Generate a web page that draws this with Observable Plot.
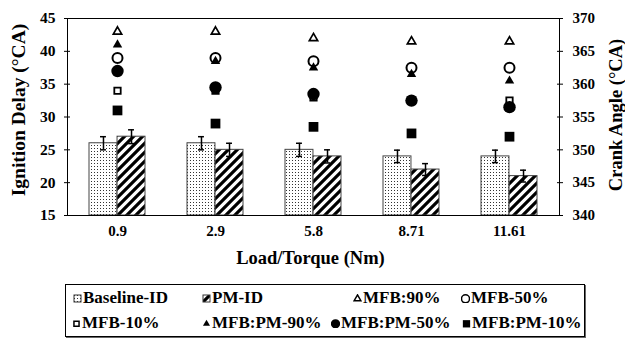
<!DOCTYPE html>
<html><head><meta charset="utf-8">
<script src="https://cdn.jsdelivr.net/npm/d3@7"></script>
<script src="https://cdn.jsdelivr.net/npm/@observablehq/plot@0.6"></script>
<style>
body{margin:0;background:#fff;font-family:"Liberation Serif","Times New Roman","DejaVu Serif",serif;}
#chart{position:relative;width:625px;height:339px;overflow:hidden;}
#legendBox{position:absolute;left:65px;top:284px;width:520px;height:53px;border:1px solid #000;box-sizing:border-box;box-shadow:1px 1px 0 #666;}
.item{position:absolute;height:20px;display:flex;align-items:center;white-space:nowrap;font-weight:bold;font-size:17px;color:#000;font-family:"Liberation Serif","Times New Roman","DejaVu Serif",serif;}
.item svg{margin-right:1px;}
svg text{font-family:"Liberation Serif","Times New Roman","DejaVu Serif",serif;}
</style></head><body><div id="chart"></div>
<script>
// ---- data ----
const loads = ["0.9", "2.9", "5.8", "8.71", "11.61"];
const baselineID = [26, 26, 25, 24, 24];
const pmID = [27, 25, 24, 22, 21];
const baselineErr = [1, 1, 1, 0.95, 0.95];
const pmErr = [1.05, 1, 1, 0.9, 0.9];
// crank angle series (right axis)
const mfb90 = [368, 368, 367, 366.5, 366.5];
const mfb50 = [364, 364, 363.5, 362.5, 362.5];
const mfb10 = [359, 359, 358, 357.5, 357.5];
const mfbPM90 = [366, 363.5, 362.5, 361.5, 360.5];
const mfbPM50 = [362, 359.5, 358.5, 357.5, 356.5];
const mfbPM10 = [356, 354, 353.5, 352.5, 352];
const idTicks = [15, 20, 25, 30, 35, 40, 45];
const caTicks = [340, 345, 350, 355, 360, 365, 370];
const xTitle = "Load/Torque (Nm)";
const yTitle = "Ignition Delay (°CA)";
const y2Title = "Crank Angle (°CA)";

// ---- build ----
const FONT = '"Liberation Serif", "Times New Roman", "DejaVu Serif", serif';
const idDomain = [idTicks[0], idTicks[idTicks.length - 1]];
const caDomain = [caTicks[0], caTicks[caTicks.length - 1]];
const toLeft = d3.scaleLinear().domain(caDomain).range(idDomain);

const rows = loads.map((l, i) => ({load: l, base: baselineID[i], pm: pmID[i], be: baselineErr[i], pe: pmErr[i]}));

const markerSeries = [
  {name: "MFB:90%", values: mfb90, symbol: "triangle", fill: "white", stroke: "black", strokeWidth: 1.7, r: 3.1},
  {name: "MFB-50%", values: mfb50, symbol: "circle", fill: "white", stroke: "black", strokeWidth: 2, r: 5},
  {name: "MFB-10%", values: mfb10, symbol: "square", fill: "white", stroke: "black", strokeWidth: 1.8, r: 3.6},
  {name: "MFB:PM-90%", values: mfbPM90, symbol: "triangle", fill: "black", stroke: "none", strokeWidth: 0, r: 3.5},
  {name: "MFB:PM-50%", values: mfbPM50, symbol: "circle", fill: "black", stroke: "none", strokeWidth: 0, r: 6.2},
  {name: "MFB:PM-10%", values: mfbPM10, symbol: "square", fill: "black", stroke: "none", strokeWidth: 0, r: 5.5}
];

const W = 625, H = 282, mL = 67, mR = 66;
const pIn = 0.43, pOut = 0.215;
const step = (W - mL - mR) / (loads.length - pIn + 2 * pOut);
const half = step * (1 - pIn) / 2;

const boldText = {fontWeight: "bold", fill: "black", fontFamily: FONT};

const marks = [
  Plot.barY(rows, {x: "load", y1: idDomain[0], y2: "base", fill: "url(#dots)", stroke: "#444", strokeWidth: 1, insetRight: half}),
  Plot.barY(rows, {x: "load", y1: idDomain[0], y2: "pm", fill: "url(#hatch)", stroke: "#444", strokeWidth: 1, insetLeft: half}),
  Plot.ruleX(rows, {x: "load", y1: d => d.base - d.be, y2: d => d.base + d.be, dx: -half / 2, stroke: "black", strokeWidth: 1.5}),
  Plot.tickY(rows, {x: "load", y: d => d.base + d.be, dx: -half / 2, insetLeft: half - 3, insetRight: half - 3, stroke: "black", strokeWidth: 1.5}),
  Plot.tickY(rows, {x: "load", y: d => d.base - d.be, dx: -half / 2, insetLeft: half - 3, insetRight: half - 3, stroke: "black", strokeWidth: 1.5}),
  Plot.ruleX(rows, {x: "load", y1: d => d.pm - d.pe, y2: d => d.pm + d.pe, dx: half / 2, stroke: "black", strokeWidth: 1.5}),
  Plot.tickY(rows, {x: "load", y: d => d.pm + d.pe, dx: half / 2, insetLeft: half - 3, insetRight: half - 3, stroke: "black", strokeWidth: 1.5}),
  Plot.tickY(rows, {x: "load", y: d => d.pm - d.pe, dx: half / 2, insetLeft: half - 3, insetRight: half - 3, stroke: "black", strokeWidth: 1.5}),
  Plot.frame({stroke: "black", strokeWidth: 1}),
  Plot.axisY(idTicks, {anchor: "left", tickSize: 6, dx: 3, tickPadding: 9, fontSize: 15.5, label: null, stroke: "black", ...boldText}),
  Plot.axisY(caTicks.map(v => toLeft(v)), {anchor: "right", tickSize: 6, dx: -3, tickPadding: 10, fontSize: 15, label: null, tickFormat: v => String(Math.round(toLeft.invert(v))), stroke: "black", ...boldText}),
  Plot.axisX({tickSize: 0, tickPadding: 10, fontSize: 15, label: null, ...boldText}),
  ...markerSeries.map(s => Plot.dot(loads.map((l, i) => ({load: l, ca: s.values[i]})), {
    x: "load", y: d => toLeft(d.ca), symbol: s.symbol, r: s.r, fill: s.fill, stroke: s.stroke, strokeWidth: s.strokeWidth
  })),
  Plot.text([xTitle], {frameAnchor: "bottom", textAnchor: "middle", dy: 48, dx: -3, fontSize: 18.5, ...boldText}),
  Plot.text([yTitle], {frameAnchor: "left", textAnchor: "middle", rotate: -90, dx: -49, dy: -7, fontSize: 19.5, ...boldText}),
  Plot.text([y2Title], {frameAnchor: "right", textAnchor: "middle", rotate: -90, dx: 57, dy: -2, fontSize: 18.5, ...boldText})
];

const svg = Plot.plot({
  width: W, height: H,
  marginLeft: mL, marginRight: mR, marginTop: 18, marginBottom: H - 215,
  x: {type: "band", domain: loads, paddingInner: pIn, paddingOuter: pOut, axis: null},
  y: {domain: idDomain, axis: null},
  style: {fontFamily: FONT, color: "black", background: "white", overflow: "visible"},
  marks
});

d3.select(svg).insert("defs", ":first-child").html(
  '<pattern id="dots" patternUnits="userSpaceOnUse" width="3" height="3">' +
  '<rect width="3" height="3" fill="white"/><rect x="1" y="1" width="1" height="1" fill="#333"/></pattern>' +
  '<pattern id="hatch" patternUnits="userSpaceOnUse" width="9" height="9">' +
  '<rect width="9" height="9" fill="white"/><path d="M-2,2 L2,-2 M0,9 L9,0 M7,11 L11,7" stroke="black" stroke-width="3.2"/></pattern>'
);

const chart = document.getElementById("chart");
chart.appendChild(svg);

// ---- legend ----
const box = document.createElement("div");
box.id = "legendBox";
chart.appendChild(box);

const legendItems = [
  {name: "Baseline-ID", kind: "rect", fill: "url(#dots)", left: 73, top: 298},
  {name: "PM-ID", kind: "rect", fill: "url(#hatch)", left: 202, top: 298},
  {name: "MFB:90%", kind: "sym", s: markerSeries[0], left: 353, top: 298},
  {name: "MFB-50%", kind: "sym", s: markerSeries[1], left: 461, top: 298},
  {name: "MFB-10%", kind: "sym", s: markerSeries[2], left: 72, top: 323},
  {name: "MFB:PM-90%", kind: "sym", s: markerSeries[3], left: 202, top: 323},
  {name: "MFB:PM-50%", kind: "sym", s: markerSeries[4], left: 331, top: 323},
  {name: "MFB:PM-10%", kind: "sym", s: markerSeries[5], left: 462, top: 323}
];
const symMap = {triangle: d3.symbolTriangle, circle: d3.symbolCircle, square: d3.symbolSquare};
for (const it of legendItems) {
  const div = d3.select(chart).append("div").attr("class", "item")
    .style("left", it.left + "px").style("top", (it.top - 10) + "px");
  const sw = div.append("svg").attr("width", 9).attr("height", 9);
  if (it.kind === "rect") {
    sw.append("rect").attr("x", 1).attr("y", 1).attr("width", 7).attr("height", 7)
      .attr("fill", it.fill).attr("stroke", "#333").attr("stroke-width", 1);
  } else {
    const s = it.s;
    const scaleR = s.fill === "black" ? 0.75 : 0.8;
    const r = s.r * scaleR;
    sw.append("path").attr("transform", "translate(4.5,4.8)")
      .attr("d", d3.symbol(symMap[s.symbol], Math.PI * r * r)())
      .attr("fill", s.fill).attr("stroke", s.stroke === "none" ? null : s.stroke)
      .attr("stroke-width", s.strokeWidth ? 1.5 : null);
  }
  div.append("span").text(it.name);
}
</script>
</body></html>
